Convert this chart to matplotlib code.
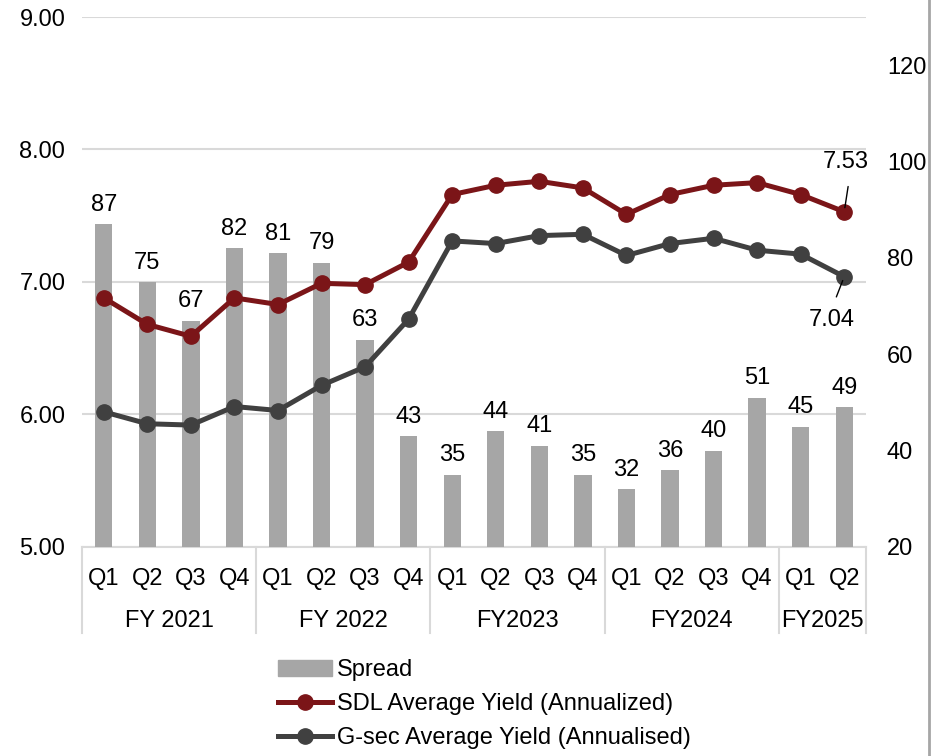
import matplotlib.pyplot as plt
from matplotlib.lines import Line2D
from matplotlib.patches import Patch

plt.rcParams['font.family'] = ['Liberation Sans', 'DejaVu Sans']

quarters = ["Q1", "Q2", "Q3", "Q4"] * 4 + ["Q1", "Q2"]
years = ["FY 2021", "FY 2022", "FY2023", "FY2024", "FY2025"]
year_sizes = [4, 4, 4, 4, 2]
spread = [87, 75, 67, 82, 81, 79, 63, 43, 35, 44, 41, 35, 32, 36, 40, 51, 45, 49]
sdl = [6.88, 6.68, 6.59, 6.88, 6.83, 6.99, 6.98, 7.15, 7.66, 7.73, 7.76, 7.71,
       7.51, 7.66, 7.73, 7.75, 7.66, 7.53]
gsec = [6.02, 5.93, 5.92, 6.06, 6.03, 6.22, 6.36, 6.72, 7.31, 7.29, 7.35, 7.36,
        7.20, 7.29, 7.33, 7.24, 7.21, 7.04]

bar_c = "#A6A6A6"
sdl_c = "#7B1518"
gsec_c = "#404040"
grid_c = "#D9D9D9"
fs = 17

fig = plt.figure(figsize=(9.33, 7.56), dpi=100)
ax = fig.add_axes([0.0879, 0.2765, 0.8403, 0.701])
x = list(range(len(spread)))

# left axis: yields, gridlines at the back
ax.set_ylim(5, 9)
ax.set_yticks([5, 6, 7, 8, 9])
ax.set_yticklabels(["5.00", "6.00", "7.00", "8.00", "9.00"])
ax.yaxis.grid(True, color=grid_c, lw=1.5)
ax.set_axisbelow(True)
ax.tick_params(axis="y", length=0, pad=12, labelsize=fs)
ax.set_xlim(-0.5, len(spread) - 0.5)
ax.set_xticks([])
for s in ["top", "left", "right"]:
    ax.spines[s].set_visible(False)
ax.spines["bottom"].set_color(grid_c)
ax.spines["bottom"].set_linewidth(1.5)

# right axis: spread bars
axb = ax.twinx()
axb.set_ylim(20, 130)
axb.set_yticks([20, 40, 60, 80, 100, 120])
axb.tick_params(axis="y", length=0, pad=15, labelsize=fs)
for s in axb.spines.values():
    s.set_visible(False)
axb.bar(x, [v - 20 for v in spread], bottom=20, width=0.4, color=bar_c)
for i, v in enumerate(spread):
    axb.annotate(str(v), (i, v), xytext=(0, 6), textcoords="offset points",
                 ha="center", va="bottom", fontsize=fs)

# lines on top
axl = ax.twinx()
axl.set_ylim(5, 9)
axl.set_yticks([])
for s in axl.spines.values():
    s.set_visible(False)
axl.plot(x, sdl, color=sdl_c, lw=3.6, marker="o", ms=11)
axl.plot(x, gsec, color=gsec_c, lw=3.6, marker="o", ms=11)

axl.annotate(f"{sdl[-1]:.2f}", (x[-1], sdl[-1]), xytext=(1, 36),
             textcoords="offset points", ha="center", va="center", fontsize=fs,
             arrowprops=dict(arrowstyle="-", color="black", lw=1, shrinkA=8, shrinkB=3,
                             relpos=(0.6, 0)))
axl.annotate(f"{gsec[-1]:.2f}", (x[-1], gsec[-1]), xytext=(-9, -31),
             textcoords="offset points", ha="center", va="center", fontsize=fs,
             arrowprops=dict(arrowstyle="-", color="black", lw=1, shrinkA=7, shrinkB=3,
                             relpos=(0.5, 1)))

# two-level category axis
tr = ax.get_xaxis_transform()
for i, q in enumerate(quarters):
    ax.annotate(q, (i, 0), xycoords=tr, xytext=(0, -23), textcoords="offset points",
                ha="center", va="center", fontsize=fs)
start = 0
edges = [-0.5]
for name, n in zip(years, year_sizes):
    mid = start + (n - 1) / 2
    ax.annotate(name, (mid, 0), xycoords=tr, xytext=(0, -53), textcoords="offset points",
                ha="center", va="center", fontsize=fs)
    start += n
    edges.append(start - 0.5)
for e in edges:
    ax.plot([e, e], [0, -0.163], transform=tr, color=grid_c, lw=1.5, clip_on=False)

# legend
handles = [Patch(color=bar_c),
           Line2D([], [], color=sdl_c, lw=3.6, marker="o", ms=11),
           Line2D([], [], color=gsec_c, lw=3.6, marker="o", ms=11)]
labels = ["Spread", "SDL Average Yield (Annualized)", "G-sec Average Yield (Annualised)"]
fig.legend(handles, labels, loc="upper left", bbox_to_anchor=(0.298, 0.128),
           frameon=False, fontsize=fs, handlelength=2.3, handletextpad=0.2,
           labelspacing=0.5, borderpad=0, borderaxespad=0)

fig.add_artist(Line2D([0.996, 0.996], [0, 1], transform=fig.transFigure,
                      color="#A6A6A6", lw=2))

fig.savefig("out.png", dpi=100)
